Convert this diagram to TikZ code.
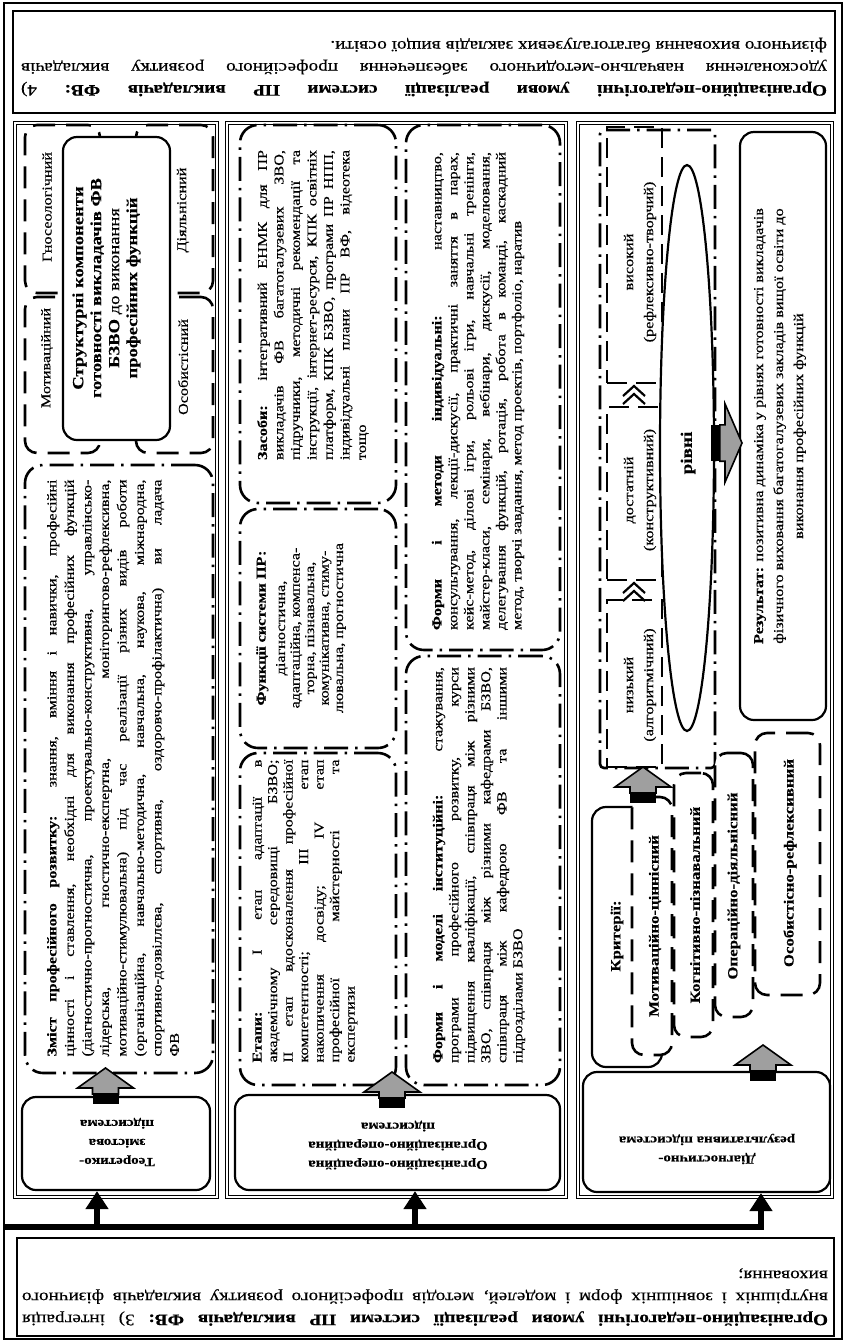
\documentclass[tikz,border=0pt]{standalone}
\usepackage{fontspec}
\setmainfont{Liberation Serif}[FakeStretch=1.2,FakeBold=0.4]
\usetikzlibrary{arrows.meta,shapes.geometric}
\setlength{\parindent}{0pt}
\newlength{\jwidth}
\newcommand{\jl}[1]{\makebox[\jwidth][s]{#1}}
\tikzset{
  frame/.style={draw,line width=2.4pt},
  column/.style={draw,double,double distance=1.8pt,line width=1.1pt,inner sep=0pt},
  outerbox/.style={draw,line width=2.6pt,inner sep=0pt},
  solidbox/.style={draw,line width=2.2pt,rounded corners=14pt,fill=white,inner sep=0pt},
  dashdotbox/.style={draw,line width=2.6pt,rounded corners=18pt,dash pattern=on 24pt off 7pt on 2.5pt off 7pt,inner sep=0pt},
  dashbox/.style={draw,line width=2.6pt,rounded corners=12pt,dash pattern=on 22pt off 11pt,inner sep=0pt},
  levelbox/.style={draw,line width=2.4pt,dash pattern=on 20pt off 9pt,inner sep=0pt},
  jw/.code={\setlength{\jwidth}{#1}},
  vtxt/.style={rotate=90,inner sep=0pt,align=left,font=\fontsize{13.5}{16.5}\selectfont},
  ctxt/.style={rotate=90,inner sep=0pt,align=center,font=\fontsize{13.5}{20}\selectfont},
  utxt/.style={rotate=180,inner sep=0pt,align=left,font=\fontsize{16}{22}\selectfont},
  subtxt/.style={rotate=180,inner sep=0pt,align=center,font=\fontsize{12.5}{19}\bfseries},
  crtxt/.style={ctxt,font=\fontsize{14}{16}\bfseries},
  bus/.style={line width=6pt,-{Triangle[length=18pt,width=22pt]}},
  chev/.style={line width=2.2pt},
  garrow/.pic={
    \fill (-13,20) rectangle (13,36);
    \filldraw[fill=gray!75,line width=1.6pt,line join=miter] (0,0) -- (28,20) -- (13,20) -- (13,26) -- (-13,26) -- (-13,20) -- (-28,20) -- cycle;
  }
}
\begin{document}
\begin{tikzpicture}[x=1pt,y=-1pt]
            \useasboundingbox (0,0) rectangle (846,1342);
            \draw[frame] (4,3) rectangle (842,1339);
            \node (cond4) at (424,62) [outerbox,minimum width=822pt,minimum height=102pt]{};
            \node (cond3) at (425.5,1287) [outerbox,minimum width=817pt,minimum height=98pt]{};
            \node (colA) at (116,660) [column,minimum width=202pt,minimum height=1074pt]{};
            \node (colB) at (396.5,660) [column,minimum width=339pt,minimum height=1074pt]{};
            \node (colC) at (705,660) [column,minimum width=254pt,minimum height=1074pt]{};
            \node (cond4Txt) at (424,67) [utxt,jw=806pt]{\jl{\textbf{Організаційно-педагогічні умови реалізації системи ПР викладачів ФВ:} 4)}\\ \jl{удосконалення навчально-методичного забезпечення професійного розвитку викладачів}\\ фізичного виховання багатогалузевих закладів вищої освіти.};
            \node (cond3Txt) at (425,1297) [utxt,jw=806pt]{\jl{\textbf{Організаційно-педагогічні умови реалізації системи ПР викладачів ФВ:} 3) інтеграція}\\ \jl{внутрішніх і зовнішніх форм і моделей, методів професійного розвитку викладачів фізичного}\\ виховання;};
            \node (gnosBox) at (62.5,209) [dashbox,minimum width=75pt,minimum height=168pt]{};
            \node (motivBox) at (62.5,375) [dashbox,minimum width=75pt,minimum height=156pt]{};
            \node (diyalBox) at (174.5,209) [dashbox,minimum width=77pt,minimum height=168pt]{};
            \node (osobBox) at (174.5,375) [dashbox,minimum width=77pt,minimum height=156pt]{};
            \node (struktBox) at (116.5,288.5) [solidbox,minimum width=107pt,minimum height=303pt]{};
            \node (gnosTxt) at (47,207) [ctxt]{Гносеологічний};
            \node (motivTxt) at (47,358) [ctxt]{Мотиваційний};
            \node (diyalTxt) at (183,210) [ctxt]{Діяльнісний};
            \node (osobTxt) at (183,367) [ctxt]{Особистісний};
            \node (struktTxt) at (106.5,288) [ctxt,font=\fontsize{15.5}{18}\bfseries]{Структурні компоненти\\ готовності викладачів ФВ\\ БЗВО {\mdseries до виконання}\\ професійних функцій};
            \node (zmistBox) at (119,769) [dashdotbox,minimum width=188pt,minimum height=608pt]{};
            \node (zmistTxt) at (113,768) [vtxt,jw=577pt,font=\fontsize{13.5}{17.5}\selectfont]{\jl{\textbf{Зміст професійного розвитку:} знання, вміння і навички, професійні}\\ \jl{цінності і ставлення, необхідні для виконання професійних функцій}\\ \jl{(діагностично-прогностична, проектувально-конструктивна, управлінсько-}\\ \jl{лідерська, гностично-експертна, моніторингово-рефлексивна,}\\ \jl{мотиваційно-стимулювальна) під час реалізації різних видів роботи}\\ \jl{(організаційна, навчально-методична, навчальна, наукова, міжнародна,}\\ \jl{спортивно-дозвіллєва, спортивна, оздоровчо-профілактична) ви ладача}\\ ФВ};
            \node (sub1Box) at (116,1143.5) [solidbox,minimum width=188pt,minimum height=93pt]{};
            \node (sub1Txt) at (117,1142) [subtxt]{Теоретико-\\змістова\\підсистема};
            \node (zasobyBox) at (318,314) [dashdotbox,minimum width=156pt,minimum height=378pt]{};
            \node (funkBox) at (318,628.5) [dashdotbox,minimum width=156pt,minimum height=239pt]{};
            \node (etapyBox) at (318,919) [dashdotbox,minimum width=156pt,minimum height=332pt]{};
            \node (metodyBox) at (483,387.5) [dashdotbox,minimum width=154pt,minimum height=525pt]{};
            \node (modeliBox) at (483,870.5) [dashdotbox,minimum width=154pt,minimum height=429pt]{};
            \node (zasobyTxt) at (313,305) [vtxt,jw=310pt]{\jl{\textbf{Засоби:} інтегративний ЕНМК для ПР}\\ \jl{викладачів ФВ багатогалузевих ЗВО,}\\ \jl{підручники, методичні рекомендації та}\\ \jl{інструкції, інтернет-ресурси, КПК освітніх}\\ \jl{платформ, КПК БЗВО, програми ПР НПП,}\\ \jl{індивідуальні плани ПР ВФ, відеотека}\\ тощо};
            \node (funkTxt) at (301,628) [ctxt,font=\fontsize{13.5}{14.5}\selectfont]{\textbf{Функції системи ПР:}\\[5pt] діагностична,\\ адаптаційна, компенса-\\ торна, пізнавальна,\\ комунікативна, стиму-\\ лювальна, прогностична};
            \node (etapyTxt) at (305,911) [vtxt,jw=303pt,font=\fontsize{13.5}{15.5}\selectfont]{\jl{\textbf{Етапи:} І етап адаптації в}\\ \jl{академічному середовищі БЗВО;}\\ \jl{ІІ етап вдосконалення професійної}\\ \jl{компетентності; ІІІ етап}\\ \jl{накопичення досвіду; IV етап}\\ \jl{професійної майстерності та}\\ експертизи};
            \node (metodyTxt) at (478,391) [vtxt,jw=478pt,font=\fontsize{13.5}{16}\selectfont]{\jl{\textbf{Форми і методи індивідуальні:} наставництво,}\\ \jl{консультування, лекції-дискусії, практичні заняття в парах,}\\ \jl{кейс-метод, ділові ігри, рольові ігри, навчальні тренінги,}\\ \jl{майстер-класи, семінари, вебінари, дискусії, моделювання,}\\ \jl{делегування функцій, ротація, робота в команді, каскадний}\\ метод, творчі завдання, метод проектів, портфоліо, наратив};
            \node (modeliTxt) at (479,865) [vtxt,jw=396pt,font=\fontsize{13.5}{16}\selectfont]{\jl{\textbf{Форми і моделі інституційні:} стажування,}\\ \jl{програми професійного розвитку, курси}\\ \jl{підвищення кваліфікації, співпраця між різними}\\ \jl{ЗВО, співпраця між різними кафедрами БЗВО,}\\ \jl{співпраця між кафедрою ФВ та іншими}\\ підрозділами БЗВО};
            \node (sub2Box) at (397.5,1142.5) [solidbox,minimum width=325pt,minimum height=95pt]{};
            \node (sub2Txt) at (398,1145) [subtxt]{Організаційно-операційна\\Організаційно-операційна\\підсистема};
            \node (rivniReg) at (657.5,449) [dashdotbox,rounded corners=4pt,minimum width=115pt,minimum height=638pt]{};
            \node (highBox) at (634.5,255) [levelbox,minimum width=55pt,minimum height=256pt]{};
            \node (midBox) at (634.5,493.5) [levelbox,minimum width=55pt,minimum height=173pt]{};
            \node (lowBox) at (634.5,683.5) [levelbox,minimum width=55pt,minimum height=167pt]{};
            \foreach \y in {383,580} {
                \draw[chev] (623,\y+13) -- (634,\y+3) -- (645,\y+13);
                \draw[chev] (623,\y+21) -- (634,\y+11) -- (645,\y+21);
            }
            \node (highTxt) at (640,262) [ctxt]{високий\\(рефлексивно-творчий)};
            \node (midTxt) at (640,490) [ctxt]{достатній\\(конструктивний)};
            \node (lowTxt) at (640,685) [ctxt]{низький\\(алгоритмічний)};
            \node (rivni) at (687,448) [ellipse,draw,line width=2.2pt,fill=white,minimum width=54pt,minimum height=566pt,inner sep=0pt]{};
            \node (rivniTxt) at (688,453) [ctxt,font=\fontsize{16}{18}\bfseries]{рівні};
            \node (resultBox) at (783,426) [solidbox,minimum width=86pt,minimum height=588pt]{};
            \node (resultTxt) at (780,426) [ctxt,font=\fontsize{13.5}{20}\selectfont]{\textbf{Результат:} позитивна динаміка у рівнях готовності викладачів\\ фізичного виховання багатогалузевих закладів вищої освіти до\\ виконання професійних функцій};
            \node (kritBox) at (627,937) [solidbox,minimum width=70pt,minimum height=260pt]{};
            \node (motCrBox) at (652,926) [dashbox,fill=white,minimum width=40pt,minimum height=258pt]{};
            \node (kognBox) at (693.5,905) [dashbox,fill=white,minimum width=39pt,minimum height=264pt]{};
            \node (operBox) at (734,885) [dashbox,fill=white,minimum width=38pt,minimum height=264pt]{};
            \node (osRefBox) at (787.5,864) [dashbox,fill=white,minimum width=65pt,minimum height=262pt]{};
            \node (kritTxt) at (617,936) [crtxt]{Критерії:};
            \node (motCrTxt) at (655,926) [crtxt]{Мотиваційно-ціннісний};
            \node (kognTxt) at (695,905) [crtxt]{Когнітивно-пізнавальний};
            \node (operTxt) at (734,886) [crtxt]{Операційно-діяльнісний};
            \node (osRefTxt) at (790,863) [crtxt]{Особистісно-рефлексивний};
            \node (sub3Box) at (706.5,1132) [solidbox,minimum width=247pt,minimum height=120pt]{};
            \node (sub3Txt) at (707,1149) [subtxt]{Діагностично-\\результативна підсистема};
            \coordinate (busW) at (4,1227);
            \draw[bus] (busW) -| (761,0 |- sub3Box.south);
            \foreach \x/\sub in {97/sub1Box,415/sub2Box} {
                \draw[bus] (\x,0 |- busW) -- (\x,0 |- \sub.south);
            }
            \pic at (105.5,1068) {garrow};
            \pic at (392,1072) {garrow};
            \pic at (763,1045) {garrow};
            \pic at (643,767) {garrow};
            \pic[rotate=-90,xscale=1.4,yscale=0.85] at (742,443) {garrow};
        \end{tikzpicture}
\end{document}
